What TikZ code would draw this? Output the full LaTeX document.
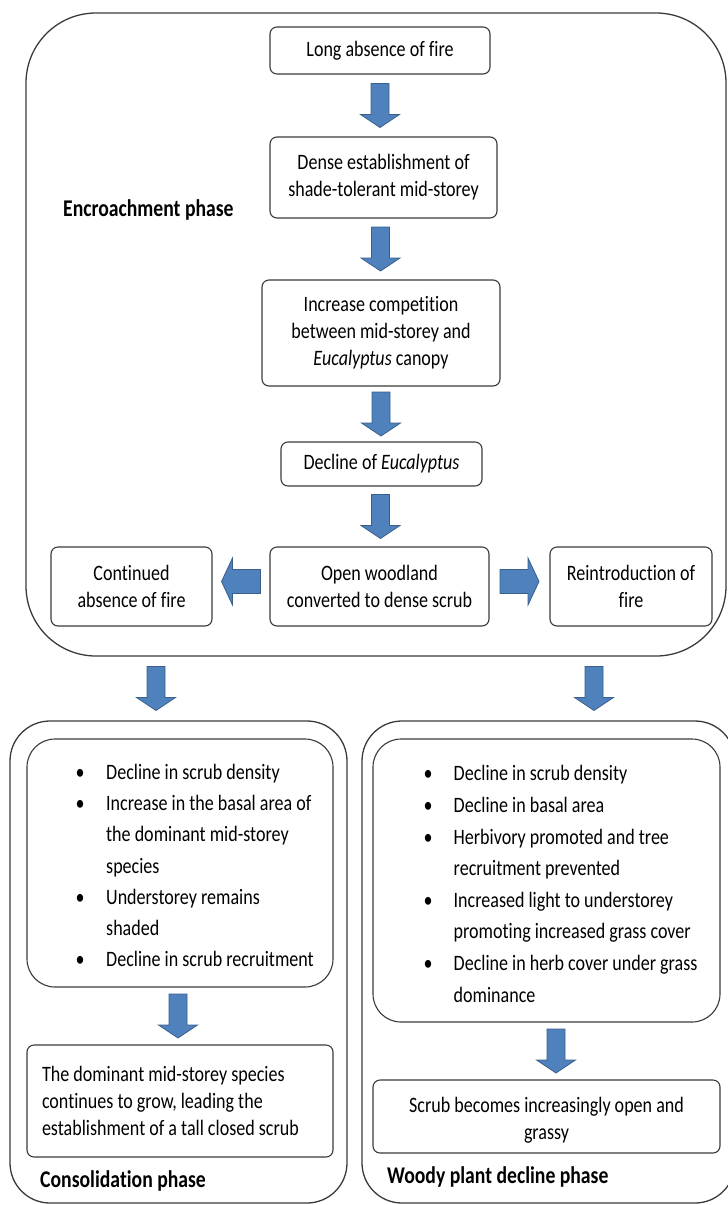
\documentclass[tikz,border=0pt]{standalone}
\usepackage{fontspec}
\setmainfont{Carlito}[FakeStretch=0.82, Ligatures=NoCommon]
\usetikzlibrary{calc}
\definecolor{arrowblue}{HTML}{4F81BD}
\definecolor{arrowedge}{HTML}{3A5F8B}
\definecolor{boxline}{HTML}{3A3A3A}

% block arrows between two named nodes, drawn in the middle of the gap
\newcommand{\blockdown}[3][0]{%
  \path[blockarrow] let \p1=(#2), \p2=(#3), \n1={\x1+(#1pt)}, \n2={(\y1+\y2)/2} in
    (\n1-9pt,\n2+22pt) -- (\n1+9pt,\n2+22pt) -- (\n1+9pt,\n2-9pt) -- (\n1+19.5pt,\n2-9pt)
    -- (\n1,\n2-22pt) -- (\n1-19.5pt,\n2-9pt) -- (\n1-9pt,\n2-9pt) -- cycle;}
\newcommand{\blockleft}[2]{%
  \path[blockarrow] let \p1=(#1), \p2=(#2), \n1={(\x1+\x2)/2}, \n2={\y1+5pt} in
    (\n1+19.5pt,\n2+12pt) -- (\n1-8.5pt,\n2+12pt) -- (\n1-8.5pt,\n2+23.5pt) -- (\n1-19.5pt,\n2)
    -- (\n1-8.5pt,\n2-23.5pt) -- (\n1-8.5pt,\n2-12pt) -- (\n1+19.5pt,\n2-12pt) -- cycle;}
\newcommand{\blockright}[2]{%
  \path[blockarrow] let \p1=(#1), \p2=(#2), \n1={(\x1+\x2)/2}, \n2={\y1+5pt} in
    (\n1-19.5pt,\n2+12pt) -- (\n1+8.5pt,\n2+12pt) -- (\n1+8.5pt,\n2+23.5pt) -- (\n1+19.5pt,\n2)
    -- (\n1+8.5pt,\n2-23.5pt) -- (\n1+8.5pt,\n2-12pt) -- (\n1-19.5pt,\n2-12pt) -- cycle;}

\begin{document}
\begin{tikzpicture}[x=1pt,y=-1pt,
  every node/.style={inner sep=0pt, font=\fontsize{22}{27}\selectfont},
  stepbox/.style={draw=boxline, line width=1.1pt, rounded corners=7pt, align=center},
  phasebox/.style={draw=boxline, line width=1.3pt, rounded corners=#1},
  listbox/.style={draw=boxline, line width=1.1pt, rounded corners=28pt},
  phaselabel/.style={anchor=base west, font=\fontsize{24}{28}\selectfont\bfseries},
  bullets/.style={anchor=north west, font=\fontsize{22}{#1}\selectfont},
  blockarrow/.style={fill=arrowblue, draw=arrowedge, line width=0.8pt, line join=miter}]
\useasboundingbox (0,0) rectangle (728,1205);

% phases
\node[phasebox=70pt, minimum width=700pt, minimum height=643pt] (enc) at (376,334.5) {};
\node[phasebox=40pt, minimum width=337pt, minimum height=482pt] (cons) at (178.5,962) {};
\node[phasebox=40pt, minimum width=373pt, minimum height=482pt] (woody) at (548.5,962) {};
\node[phaselabel] (enclabel) at (63,216) {Encroachment phase};
\node[phaselabel] (conslabel) at (40,1187) {Consolidation phase};
\node[phaselabel] (woodylabel) at (387,1183) {Woody plant decline phase};

% encroachment steps
\node[stepbox, minimum width=220pt, minimum height=47pt] (fire) at (380,50.5) {Long absence of fire};
\node[stepbox, minimum width=227pt, minimum height=81pt] (dense) at (383.5,177.5)
  {Dense establishment of\\shade-tolerant mid-storey};
\node[stepbox, minimum width=238pt, minimum height=106pt] (compet) at (381,333)
  {Increase competition\\between mid-storey and\\\textit{Eucalyptus} canopy};
\node[stepbox, minimum width=201pt, minimum height=44pt] (declin) at (381.5,464)
  {Decline of \textit{Eucalyptus}};
\node[stepbox, minimum width=219pt, minimum height=79pt] (openw) at (379.5,586.5)
  {Open woodland\\converted to dense scrub};
\node[stepbox, minimum width=161pt, minimum height=79pt] (contd) at (131.5,586.5)
  {Continued\\absence of fire};
\node[stepbox, minimum width=162pt, minimum height=79pt] (reintro) at (631,586.5)
  {Reintroduction of\\fire};

% consolidation
\node[listbox, minimum width=306pt, minimum height=248pt] (conslist) at (180,863) {};
\node[bullets=31.2] (constext) at (75.5,757.5) {%
  \begin{tabular}{@{}p{30.5pt}@{}l@{}}
  \textbullet & Decline in scrub density\\
  \textbullet & Increase in the basal area of\\
   & the dominant mid-storey\\
   & species\\
  \textbullet & Understorey remains\\
   & shaded\\
  \textbullet & Decline in scrub recruitment
  \end{tabular}};
\node[stepbox, align=flush left, text width=276pt, inner xsep=15pt, minimum height=112pt] (consend) at (180,1101)
  {The dominant mid-storey species\\continues to grow, leading the\\establishment of a tall closed scrub};

% woody plant decline
\node[listbox, minimum width=347pt, minimum height=283pt] (woodlist) at (546.5,880.5) {};
\node[bullets=31.6] (woodtext) at (423.5,758.6) {%
  \begin{tabular}{@{}p{30pt}@{}l@{}}
  \textbullet & Decline in scrub density\\
  \textbullet & Decline in basal area\\
  \textbullet & Herbivory promoted and tree\\
   & recruitment prevented\\
  \textbullet & Increased light to understorey\\
   & promoting increased grass cover\\
  \textbullet & Decline in herb cover under grass\\
   & dominance
  \end{tabular}};
\node[stepbox, minimum width=347pt, minimum height=73pt] (woodend) at (546.5,1116.5)
  {\rule{0pt}{23pt}Scrub becomes increasingly open and\\grassy};

% arrows
\blockdown{fire.south}{dense.north}
\blockdown[-3]{dense.south}{compet.north}
\blockdown{compet.south}{declin.north}
\blockdown[-1]{declin.south}{openw.north}
\blockleft{openw.west}{contd.east}
\blockright{openw.east}{reintro.west}
\blockdown[-220]{enc.south}{cons.north}
\blockdown[218]{enc.south}{woody.north}
\blockdown[-2]{conslist.south}{consend.north}
\blockdown[9.5]{woodlist.south}{woodend.north}
\end{tikzpicture}
\end{document}
